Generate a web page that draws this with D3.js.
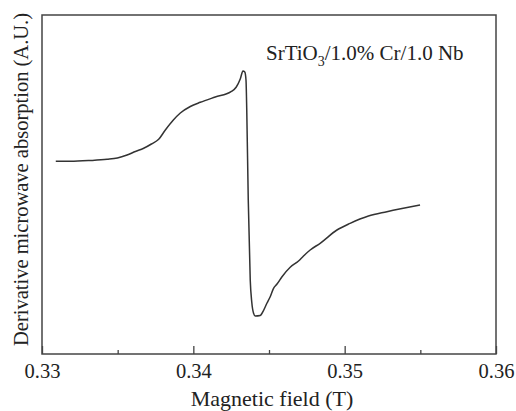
<!DOCTYPE html>
<html><head><meta charset="utf-8">
<script src="https://cdn.jsdelivr.net/npm/d3@7"></script>
<style>body{margin:0;background:#fff}svg{display:block}</style>
</head><body>
<script>
const fieldT = [0.33091,0.33188,0.33320,0.33430,0.33498,0.33562,0.33617,0.33672,0.33723,0.33771,0.33815,0.33868,0.33914,0.33980,0.34046,0.34145,0.34249,0.34284,0.34310,0.34328,0.34340,0.34348,0.34353,0.34363,0.34376,0.34386,0.34398,0.34409,0.34442,0.34455,0.34486,0.34508,0.34530,0.34553,0.34586,0.34640,0.34695,0.34728,0.34772,0.34838,0.34949,0.35036,0.35157,0.35279,0.35498];
const signal = [56.84,56.84,57.08,57.43,57.82,58.70,59.73,60.68,61.95,63.33,66.08,69.03,71.09,73.01,74.25,75.81,77.38,78.76,81.12,83.48,83.19,80.83,71.98,45.43,21.83,15.34,12.01,11.21,11.36,12.09,14.96,16.90,19.38,20.65,22.80,25.58,27.43,28.91,30.68,32.66,36.58,38.55,40.71,41.98,43.95];
const majorTicks = [0.33,0.34,0.35,0.36];
const minorTicks = [0.335,0.345,0.355];
const xTitle = "Magnetic field (T)";
const yTitle = "Derivative microwave absorption (A.U.)";

const W=516,H=411;
const m={l:42,t:15,r:496,b:354};
const font="'Liberation Serif','Times New Roman',serif";
const svg=d3.select("body").append("svg").attr("width",W).attr("height",H);
const x=d3.scaleLinear().domain([0.33,0.36]).range([m.l,m.r]);
const y=d3.scaleLinear().domain([0,100]).range([m.b,m.t]);

svg.append("rect").attr("x",m.l).attr("y",m.t).attr("width",m.r-m.l).attr("height",m.b-m.t)
  .attr("fill","none").attr("stroke","#444").attr("stroke-width",1.5);

const gx=svg.append("g").attr("transform",`translate(0,${m.b})`);
gx.call(d3.axisBottom(x).tickValues(majorTicks).tickSizeInner(-8).tickSizeOuter(0).tickPadding(9).tickFormat(d3.format(".2f")));
gx.append("g").call(d3.axisBottom(x).tickValues(minorTicks).tickSizeInner(-4).tickSizeOuter(0).tickFormat(""));
gx.selectAll(".domain").remove();
gx.selectAll("line").attr("stroke","#444").attr("stroke-width",1.3);
gx.selectAll("text").attr("font-family",font).attr("font-size",20.5).attr("fill","#222");

svg.append("text").attr("x",272).attr("y",406).attr("text-anchor","middle")
  .attr("font-family",font).attr("font-size",22).attr("fill","#222").text(xTitle);
svg.append("text").attr("transform",`translate(28,179.5) rotate(-90)`).attr("text-anchor","middle")
  .attr("font-family",font).attr("font-size",20.5).attr("fill","#222").text(yTitle);

const data=fieldT.map((f,i)=>[f,signal[i]]);
svg.append("path").datum(data).attr("fill","none").attr("stroke","#333").attr("stroke-width",1.5)
  .attr("stroke-linejoin","round")
  .attr("d",d3.line().x(d=>x(d[0])).y(d=>y(d[1])).curve(d3.curveMonotoneX));

const lbl=svg.append("text").attr("x",266).attr("y",60).attr("font-family",font).attr("font-size",21).attr("fill","#222");
lbl.append("tspan").text("SrTiO");
lbl.append("tspan").attr("font-size",14).attr("dy",6).text("3");
lbl.append("tspan").attr("dy",-6).text("/1.0% Cr/1.0 Nb");
</script>
</body></html>
